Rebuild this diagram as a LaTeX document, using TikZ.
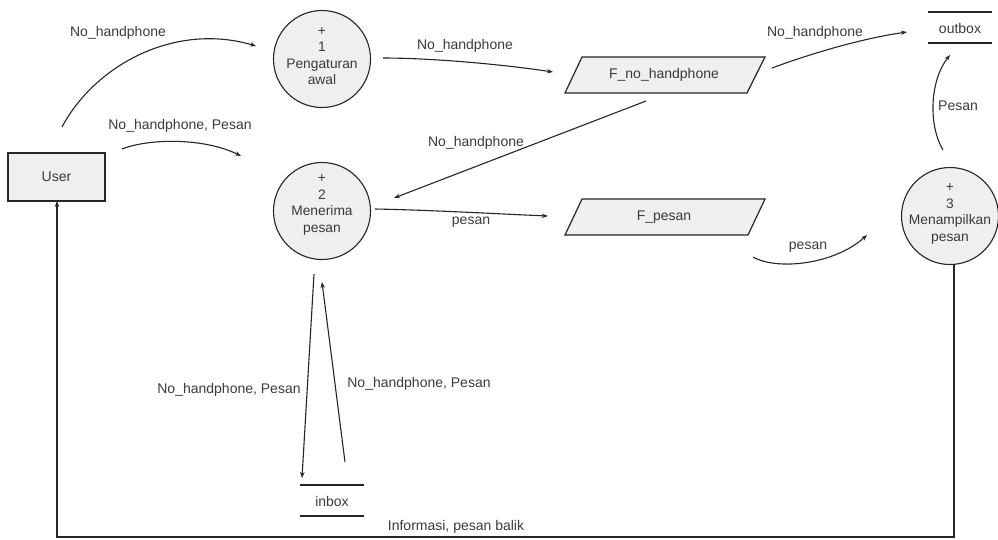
\documentclass[tikz,border=0pt]{standalone}
\usepackage{fontspec}
\setmainfont{Liberation Sans}
\usetikzlibrary{arrows.meta}
\definecolor{fillgray}{HTML}{EFEFEF}
\definecolor{txt}{HTML}{3A3A3A}
\definecolor{ln}{HTML}{262626}
\tikzset{
  lbl/.style={inner sep=0pt, text=txt, font=\fontsize{14}{16}\selectfont},
  proc/.style={circle, draw=ln, line width=1.1pt, fill=fillgray, minimum size=97pt, inner sep=0pt},
  ptext/.style={inner sep=0pt, text=txt, align=center, font=\fontsize{13.8}{16.5}\selectfont},
  flow/.style={draw=ln, line width=1.1pt, -{Stealth[length=6pt,width=4.5pt]}},
  storeline/.style={draw=ln, line width=1.2pt},
  ext/.style={draw=ln, line width=1.3pt, fill=fillgray},
  file/.style={draw=ln, line width=1.2pt, fill=fillgray}
}
\begin{document}
\begin{tikzpicture}[x=1pt,y=-1pt]
\useasboundingbox (0,0) rectangle (998,539);
% external entity
\draw[ext] (8,153) rectangle (105,201);
\node[lbl] (user) at (56.5,177) {User};
\coordinate (userbot) at (57,201);
% processes
\node[proc] (p1) at (322,59) {};
\node[ptext] (p1t) at (322,56) {+\\1\\Pengaturan\\awal};
\node[proc] (p2) at (322,211) {};
\node[ptext] (p2t) at (322,205) {+\\2\\Menerima\\pesan};
\node[proc] (p3) at (950,216) {};
\node[ptext] (p3t) at (950,214) {+\\3\\Menampilkan\\pesan};
% files (parallelograms)
\draw[file] (565,93) -- (747,93) -- (765,57) -- (582,57) -- cycle;
\node[lbl] (fno) at (664,75) {F\_no\_handphone};
\draw[file] (565,235) -- (748,235) -- (765,199) -- (582,199) -- cycle;
\node[lbl] (fpes) at (664,217) {F\_pesan};
% data stores
\draw[storeline] (928,12) -- (992,12);
\draw[storeline] (928,43) -- (992,43);
\node[lbl] (outbox) at (960,28) {outbox};
\draw[storeline] (300,485) -- (364,485);
\draw[storeline] (300,516) -- (364,516);
\node[lbl] (inbox) at (332,501) {inbox};
% connector endpoints
\coordinate (a1s) at (62,127);   \coordinate (a1e) at (256,46);
\coordinate (a2s) at (122,149);  \coordinate (a2e) at (241,156);
\coordinate (a3s) at (383,58);   \coordinate (a3e) at (553,72);
\coordinate (a4s) at (772,68);   \coordinate (a4e) at (907,32);
\coordinate (a5s) at (646,101);  \coordinate (a5e) at (394,198);
\coordinate (a6s) at (375,209);  \coordinate (a6e) at (548,216);
\coordinate (a7s) at (753,257);  \coordinate (a7e) at (867,235);
\coordinate (a8s) at (943,150);  \coordinate (a8e) at (950,55);
\coordinate (a9s) at (314,274);  \coordinate (a9e) at (302,478);
\coordinate (a10s) at (345,462); \coordinate (a10e) at (322,282);
\coordinate (a11s) at (954,264); \coordinate (c1) at (954,537); \coordinate (c2) at (57,537);
% connectors
\draw[flow] (a1s) .. controls (95,65) and (175,22) .. (a1e);
\draw[flow] (a2s) .. controls (150,138) and (205,138) .. (a2e);
\draw[flow] (a3s) .. controls (430,58) and (500,64) .. (a3e);
\draw[flow] (a4s) .. controls (815,52) and (865,38) .. (a4e);
\draw[flow] (a5s) -- (a5e);
\draw[flow] (a6s) .. controls (430,210) and (500,214) .. (a6e);
\draw[flow] (a7s) .. controls (778,271) and (835,264) .. (a7e);
\draw[flow] (a8s) .. controls (928,125) and (930,80) .. (a8e);
\draw[flow] (a9s) -- (a9e);
\draw[flow] (a10s) -- (a10e);
\draw[flow] (a11s) -- (c1) -- (c2) -- (userbot);
% labels
\node[lbl] (l1) at (118,33) {No\_handphone};
\node[lbl] (l2) at (180,126) {No\_handphone, Pesan};
\node[lbl] (l3) at (465,46) {No\_handphone};
\node[lbl] (l4) at (815,33) {No\_handphone};
\node[lbl] (l5) at (476,143) {No\_handphone};
\node[lbl] (l6) at (471,222) {pesan};
\node[lbl] (l7) at (808,247) {pesan};
\node[lbl] (l8) at (958,106) {Pesan};
\node[lbl] (l9) at (229,390) {No\_handphone, Pesan};
\node[lbl] (l10) at (419,384) {No\_handphone, Pesan};
\node[lbl] (l11) at (456,527) {Informasi, pesan balik};
\end{tikzpicture}
\end{document}
